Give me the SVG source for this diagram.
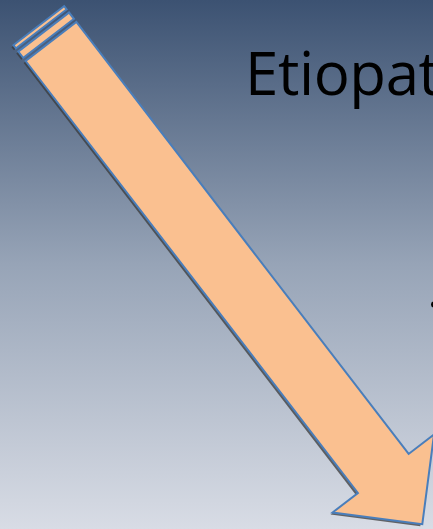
<svg xmlns="http://www.w3.org/2000/svg" width="433" height="529" viewBox="0 0 433 529">
  <defs>
    <linearGradient id="bg" x1="0" y1="0" x2="0" y2="1">
      <stop offset="0" stop-color="#3c5272"/>
      <stop offset="0.5" stop-color="#97a4b7"/>
      <stop offset="1" stop-color="#d8dce5"/>
    </linearGradient>
    <style>
      .arrow { fill: #fac090; stroke: #4a7ebb; stroke-width: 2; stroke-linejoin: miter; }
      .shadow { fill: #3a3a3a; opacity: 0.75; }
      .title { font-family: "Open Sans", "Liberation Sans", sans-serif; font-size: 60px; fill: #000000; }
    </style>
  </defs>
  <rect x="0" y="0" width="433" height="529" fill="url(#bg)"/>
  <g id="title">
    <text class="title" x="245" y="95" letter-spacing="-0.4">Etiopat</text>
  </g>
  <g id="bullet">
    <circle cx="434" cy="304.5" r="3" fill="#000000"/>
  </g>
  <g id="arrow">
    <g transform="translate(-2,2)">
      <g transform="matrix(0.6097 0.7926 0.7926 -0.6097 51 41.5)" class="shadow">
        <polygon points="0,-32 545,-32 545,-64 609,0 545,64 545,32 0,32"/>
        <rect x="-20" y="-32" width="4" height="64"/>
        <rect x="-12" y="-32" width="8" height="64"/>
      </g>
    </g>
    <g transform="matrix(0.6097 0.7926 0.7926 -0.6097 51 41.5)">
      <rect class="arrow" x="-20" y="-32" width="4" height="64"/>
      <rect class="arrow" x="-12" y="-32" width="8" height="64"/>
      <polygon class="arrow" points="0,-32 545,-32 545,-64 609,0 545,64 545,32 0,32"/>
    </g>
  </g>
</svg>
